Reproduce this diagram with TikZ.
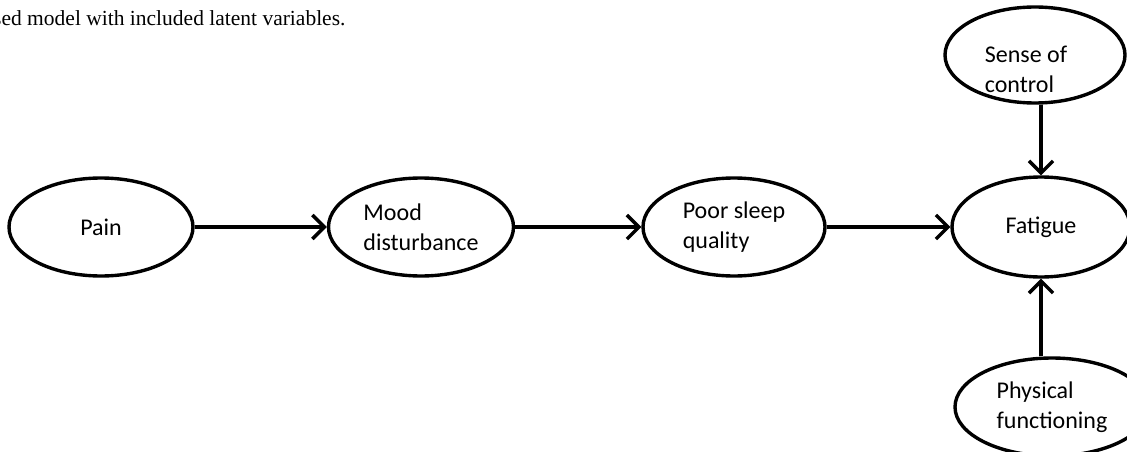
\documentclass[tikz,border=0pt]{standalone}
\usepackage{fontspec}
\setmainfont{Carlito}
\newfontfamily\capfont{Liberation Serif}
\usepackage{tikz}
\usetikzlibrary{
    arrows.meta,
    shapes.geometric,
    positioning
}
\tikzstyle{arrow} = [
    -{Straight Barb[length=12pt,width=24pt]},
    line width=3.4pt,
    draw=black
]
\tikzstyle{latent} = [
    ellipse,
    draw=black,
    line width=3.4pt,
    minimum width=184pt,
    minimum height=98pt,
    inner sep=0pt,
    align=left,
    font=\fontsize{24}{30}\selectfont
]

\begin{document}
\begin{tikzpicture}[x=1pt, y=-1pt]
        \useasboundingbox (0,0) rectangle (1127,452);

        % Caption (cut at the left)
        \node[anchor=base west, inner sep=0pt, font=\capfont\fontsize{21.5}{26}\selectfont]
            (caption) at (-7,26) {sed model with included latent variables.};

        % Main chain
        \node[latent] (pain) at (101,227) {Pain};
        \node[latent, minimum width=185pt] (mood) at (421,227) {Mood\\disturbance};
        \node[latent, minimum width=182pt] (sleep) at (734,227) {Poor sleep\\quality};
        \node[latent, minimum width=178pt, minimum height=100pt] (fatigue) at (1041,227) {Fatigue};

        % Side variables
        \node[latent, minimum width=180pt, minimum height=96pt,
            label={[font=\fontsize{24}{30}\selectfont, align=left, xshift=-9pt, yshift=-14pt]center:{Sense of\\control}}]
            (sense) at (1035,55) {};
        \node[latent, minimum width=194pt] (physical) at (1052,407) {Physical\\functioning};

        % Paths
        \draw[arrow] (pain) -- (mood);
        \draw[arrow] (mood) -- (sleep);
        \draw[arrow] (sleep) -- (fatigue);
        \draw[arrow] (sense.south -| fatigue) -- (fatigue);
        \draw[arrow] (physical.north -| fatigue) -- (fatigue);
    \end{tikzpicture}
\end{document}
